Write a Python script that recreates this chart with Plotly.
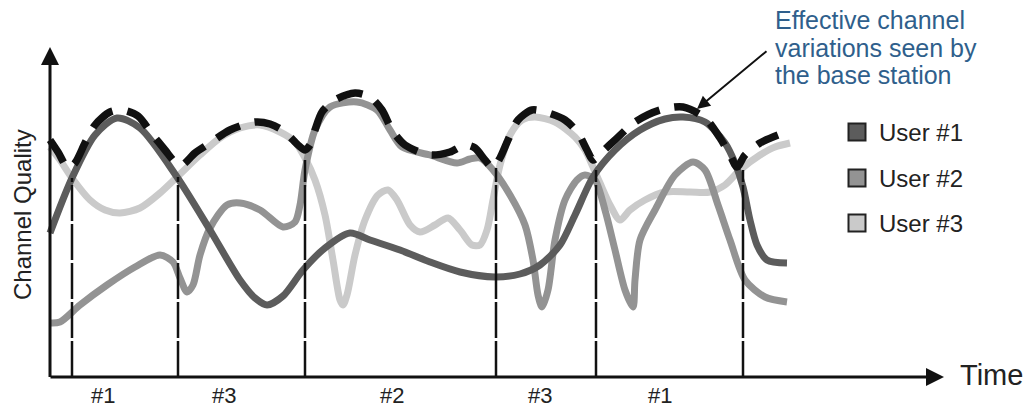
import plotly.graph_objects as go

# ---------------- data (time units, channel quality units) ----------------
users = ["User #1", "User #2", "User #3"]
user_colors = ["#5c5c5c", "#939393", "#cacaca"]

t1 = [50, 72, 95, 117, 140, 177, 210, 240, 255, 267, 283, 303, 325, 350, 370, 400, 430, 460, 495,
      520, 540, 560, 575, 593, 615, 640, 665, 683, 705, 725, 735, 743, 750, 757, 767, 787]
q1 = [144, 199, 242, 259, 249, 200, 147, 97, 79, 72, 81, 107, 129, 144, 137, 127, 115, 105, 100,
      103, 112, 132, 162, 200, 227, 247, 258, 260, 255, 234, 214, 190, 157, 132, 117, 114]

t2 = [50, 60, 80, 107, 135, 160, 173, 180, 187, 193, 200, 210, 227, 240, 260, 283, 295, 300, 305,
      315, 330, 357, 377, 390, 402, 430, 457, 470, 480, 493, 510, 525, 533, 538, 542, 548, 555, 565,
      577, 585, 595, 605, 615, 625, 633, 635, 640, 655, 675, 693, 705, 718, 730, 745, 765, 787]
q2 = [54, 55, 72, 92, 110, 122, 115, 99, 85, 92, 122, 149, 172, 174, 167, 150, 155, 172, 207,
      247, 270, 275, 267, 247, 230, 222, 214, 218, 219, 207, 182, 152, 117, 82, 70, 87, 137, 177,
      197, 202, 197, 167, 127, 87, 70, 97, 137, 167, 202, 215, 207, 172, 137, 97, 80, 75]

t3 = [50, 60, 72, 90, 105, 120, 140, 160, 177, 200, 220, 240, 260, 280, 295, 305, 315, 325, 333,
      340, 343, 347, 355, 365, 378, 388, 397, 410, 420, 435, 448, 460, 472, 480, 487, 493, 500, 510,
      522, 535, 555, 575, 585, 593, 600, 610, 620, 630, 645, 665, 690, 710, 725, 740, 760, 775, 790]
q3 = [230, 217, 199, 177, 167, 164, 169, 184, 200, 222, 239, 249, 252, 245, 235, 219, 197, 162, 117,
      77, 72, 82, 122, 157, 182, 187, 177, 152, 145, 152, 159, 147, 132, 132, 147, 177, 212, 242,
      257, 260, 255, 240, 227, 210, 194, 172, 157, 167, 177, 185, 185, 185, 192, 207, 222, 230, 234]

# effective channel seen by the base station (envelope)
te = [50, 58, 68, 75, 85, 95, 110, 122, 138, 152, 165, 176, 182, 195, 210, 230, 255, 270, 285, 298,
      305, 310, 315, 322, 335, 355, 370, 382, 392, 405, 430, 450, 465, 475, 485, 493, 500, 508, 518,
      532, 545, 565, 578, 587, 593, 602, 615, 635, 660, 683, 705, 720, 730, 737, 745, 760, 778]
qe = [237, 225, 209, 214, 234, 252, 265, 267, 261, 243, 227, 214, 212, 224, 234, 247, 255, 253, 245, 232,
      227, 232, 247, 265, 277, 284, 280, 267, 247, 232, 222, 225, 232, 229, 217, 209, 219, 237, 257,
      267, 265, 257, 244, 227, 217, 225, 237, 255, 267, 270, 259, 239, 222, 210, 222, 234, 242]

# scheduling boundaries and scheduled user per slot
slot_bounds = [72, 178, 305, 496, 596, 743]
slot_tops = [199, 200, 217, 209, 207, 207]
slot_users = ["#1", "#3", "#2", "#3", "#1"]
slot_label_t = [103, 224, 392, 540, 660]

note_lines = ["Effective channel", "variations seen by", "the base station"]

# ---------------- figure ----------------
fig = go.Figure()

series = [(t3, q3, 2), (t2, q2, 1), (t1, q1, 0)]
for t, q, i in series:
    fig.add_trace(go.Scatter(x=t, y=q, mode="lines",
                             line=dict(color=user_colors[i], width=7, shape="spline", smoothing=0.8),
                             hoverinfo="skip", showlegend=False))

fig.add_trace(go.Scatter(x=te, y=qe, mode="lines",
                         line=dict(color="#111111", width=7.5, shape="spline", smoothing=0.8,
                                   dash="26px,15px"),
                         hoverinfo="skip", showlegend=False))

for b, top in zip(slot_bounds, slot_tops):
    fig.add_trace(go.Scatter(x=[b, b], y=[0, top], mode="lines",
                             line=dict(color="#111111", width=2.5, dash="36px,3px"),
                             hoverinfo="skip", showlegend=False))

# legend drawn as marker squares with text
leg_q = [245, 199, 154]
fig.add_trace(go.Scatter(x=[857] * 3, y=leg_q, mode="markers",
                         marker=dict(symbol="square", size=17, color=user_colors,
                                     line=dict(color="#222222", width=2)),
                         hoverinfo="skip", showlegend=False))

font = "Liberation Sans, Arial, sans-serif"
ann = []
for name, q in zip(users, leg_q):
    ann.append(dict(x=877, y=q, text=name, showarrow=False, xanchor="left", yanchor="middle",
                    font=dict(family=font, size=24, color="#222222")))

for lab, t in zip(slot_users, slot_label_t):
    ann.append(dict(x=t, y=-18, text=lab, showarrow=False, xanchor="center", yanchor="middle",
                    font=dict(family=font, size=22, color="#222222")))

# axes with arrows
ann.append(dict(x=944, y=0, ax=49, ay=0, axref="x", ayref="y", xref="x", yref="y", text="",
                showarrow=True, arrowhead=2, arrowsize=1.2, arrowwidth=3, arrowcolor="#111111"))
ann.append(dict(x=50, y=330, ax=50, ay=-1.5, axref="x", ayref="y", xref="x", yref="y", text="",
                showarrow=True, arrowhead=2, arrowsize=1.2, arrowwidth=3, arrowcolor="#111111"))
ann.append(dict(x=958, y=2, text="Time", showarrow=False, xanchor="left", yanchor="middle",
                font=dict(family=font, size=29, color="#222222")))
ann.append(dict(x=22, y=162, text="Channel Quality", showarrow=False, textangle=-90,
                xanchor="center", yanchor="middle",
                font=dict(family=font, size=24, color="#222222")))

# annotation for effective channel
for line, q in zip(note_lines, [357, 329, 302]):
    ann.append(dict(x=773, y=q, text=line, showarrow=False, xanchor="left", yanchor="middle",
                    font=dict(family=font, size=25, color="#2f5f8c")))
ann.append(dict(x=697, y=268, ax=768, ay=327, axref="x", ayref="y", xref="x", yref="y", text="",
                showarrow=True, arrowhead=2, arrowsize=1.3, arrowwidth=2, arrowcolor="#111111"))

fig.update_layout(
    width=1030, height=410,
    margin=dict(l=0, r=0, t=0, b=0),
    paper_bgcolor="white", plot_bgcolor="white",
    xaxis=dict(range=[0, 1030], visible=False, fixedrange=True),
    yaxis=dict(range=[-33, 377], visible=False, fixedrange=True),
    annotations=ann,
    showlegend=False,
)

fig.write_html("out.html", config={"displayModeBar": False},
               post_script="document.body.style.margin='0';document.body.style.overflow='hidden';")
